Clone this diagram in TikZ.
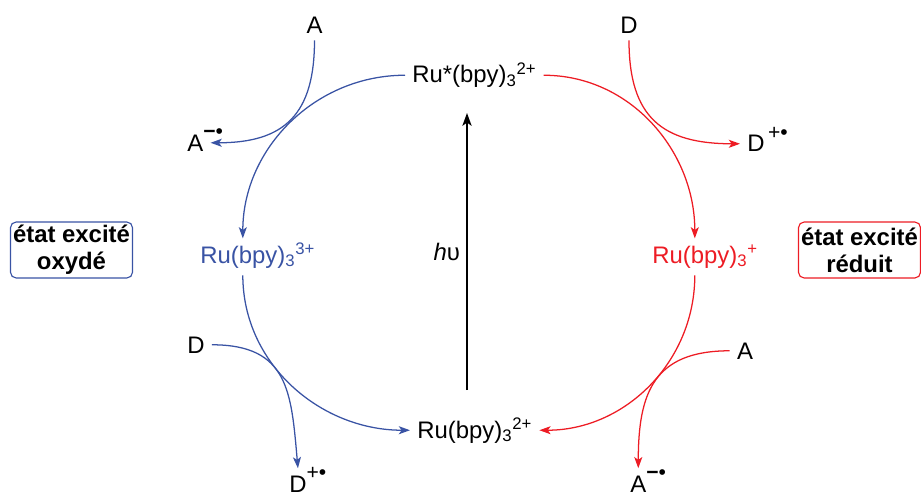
\documentclass[tikz,border=0pt]{standalone}
\usepackage{fontspec}
\setmainfont{Liberation Sans}
\usetikzlibrary{arrows.meta,positioning}

\newcommand{\radsup}[1]{\rlap{\smash{#1}}}
\newcommand{\radchg}[1]{\raisebox{0.52em}{\fontsize{15}{15}\selectfont #1}}

\begin{document}
\begin{tikzpicture}[
    font=\fontsize{17}{20}\selectfont,
    >={Stealth[length=2.8mm,width=2mm,inset=0.7mm]},
    species/.style={
        inner sep=5pt,
        anchor=base west
    },
    reagent/.style={
        inner sep=5pt,
        anchor=base
    },
    statebox/.style={
        draw,
        rounded corners=4pt,
        minimum width=3.05cm,
        minimum height=1.4cm,
        align=center,
        line width=0.8pt,
        font=\fontsize{17}{19}\selectfont\bfseries,
        inner sep=1pt
    },
    transfer/.style={
        ->,
        line width=0.9pt
    }
]

\definecolor{oxblue}{RGB}{57,83,164}
\definecolor{redred}{RGB}{237,28,36}

\useasboundingbox (0,0) rectangle (23.025,12.4);

\node[species] (rustar) at (10.125,10.325) {Ru*(bpy)\textsubscript{3}\textsuperscript{2+}};
\node[species] (ru) at (10.25,1.45) {Ru(bpy)\textsubscript{3}\textsuperscript{2+}};
\node[species, text=oxblue] (ruox) at (4.825,5.825) {Ru(bpy)\radsup{\textsubscript{3}\textsuperscript{3+}}};
\node[species, text=redred] (rured) at (16.125,5.825) {Ru(bpy)\radsup{\textsubscript{3}\textsuperscript{+}}};

\node[reagent] (atop) at (7.8625,11.575) {A};
\node[species] (aminusl) at (4.5,8.625) {A\radsup{\radchg{\textbf{−}•}}};
\node[reagent] (dleft) at (4.9,3.575) {D};
\node[species] (dplusl) at (7.05,0.1) {D\radsup{\radchg{+•}}};

\node[reagent] (dtop) at (15.725,11.575) {D};
\node[species] (dplusr) at (18.5,8.6) {D\radsup{\radchg{\,+•}}};
\node[reagent] (aright) at (18.625,3.425) {A};
\node[species] (aminusr) at (15.575,0.1) {A\radsup{\radchg{\textbf{−}•}}};

\node[statebox, draw=oxblue] (boxox) at (1.7875,6.15) {état excité\\oxydé};
\node[statebox, draw=redred] (boxred) at (21.4875,6.15) {état excité\\réduit};

\coordinate (hvbot) at (11.675,2.65);
\coordinate (hvtop) at (11.675,9.575);
\draw[->, line width=1.3pt, >={Stealth[length=3.2mm,width=2.3mm,inset=0.8mm]}] (hvbot) -- (hvtop)
    node[midway, left=1pt] (hv) {\textit{h}υ};

\draw[transfer, oxblue] (rustar.west) to[out=180, in=90] (ruox.north);
\draw[transfer, oxblue] (atop.south) to[out=-90, in=0, looseness=1.3] (aminusl.east);
\draw[transfer, oxblue] (ruox.south) to[out=-90, in=180] (ru.west);
\draw[transfer, oxblue] (dleft.east) to[out=0, in=95, looseness=1.3] (dplusl.north);

\draw[transfer, redred] (rustar.east) to[out=0, in=90] (rured.north);
\draw[transfer, redred] (dtop.south) to[out=-90, in=180, looseness=1.3] (dplusr.west);
\draw[transfer, redred] (rured.south) to[out=-90, in=0] (ru.east);
\draw[transfer, redred] (aright.west) to[out=180, in=90, looseness=1.3] (aminusr.north);

\end{tikzpicture}
\end{document}
